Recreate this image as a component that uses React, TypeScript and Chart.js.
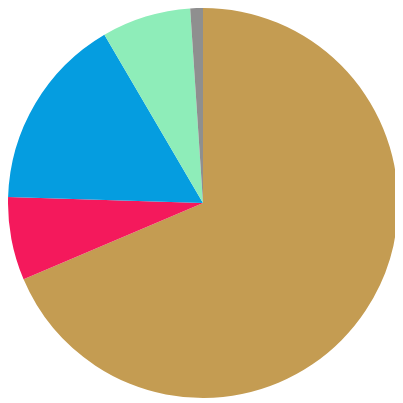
import React, { useEffect, useRef } from "react";
import { Chart, registerables } from "chart.js";

Chart.register(...registerables);

const labels = ["A", "B", "C", "D", "E"];
const values = [68.7, 6.9, 16.1, 7.4, 1.05];
const colors = ["#C49C52", "#F4195C", "#059DE0", "#8EEDB9", "#8F8F8F"];

export default function App() {
  const ref = useRef<HTMLCanvasElement>(null);
  useEffect(() => {
    if (!ref.current) return;
    const chart = new Chart(ref.current, {
      type: "pie",
      data: {
        labels,
        datasets: [
          {
            data: values,
            backgroundColor: colors,
            borderWidth: 0,
          },
        ],
      },
      options: {
        responsive: false,
        animation: false,
        layout: { padding: 0 },
        plugins: {
          legend: { display: false },
          tooltip: { enabled: false },
          title: { display: false },
        },
      },
    });
    return () => chart.destroy();
  }, []);
  return (
    <div style={{ width: 390, height: 390 }}>
      <canvas ref={ref} width={390} height={390} style={{ display: "block" }} />
    </div>
  );
}
